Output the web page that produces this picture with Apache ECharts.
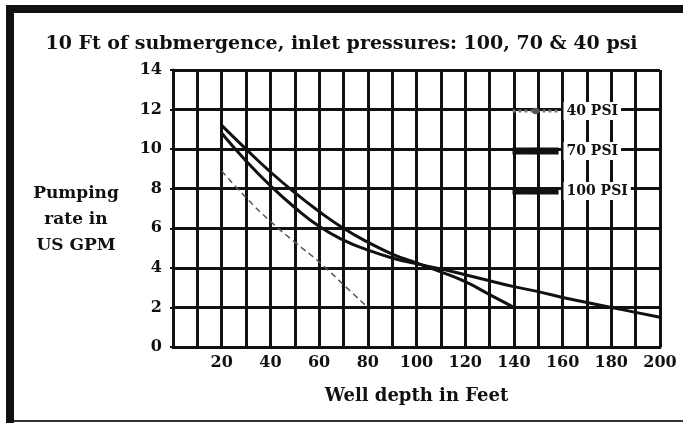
<!DOCTYPE html>
<html>
<head>
<meta charset="utf-8">
<script src="https://cdn.jsdelivr.net/npm/echarts@6/dist/echarts.min.js"></script>
<style>
  html, body { margin: 0; padding: 0; background: #fff; }
  #chart { width: 683px; height: 423px; }
</style>
</head>
<body>
<div id="chart"></div>
<script>
// well depth in feet (x) and pumping rate in US GPM (y)
const depth40 = [20, 30, 40, 50, 60, 70, 80];
const rate40 = [8.9, 7.55, 6.35, 5.3, 4.3, 3.15, 2.0];

const depth70 = [20, 30, 40, 50, 60, 70, 80, 90, 100, 110, 120, 130, 140];
const rate70 = [11.2, 10.0, 8.85, 7.8, 6.85, 6.0, 5.3, 4.7, 4.25, 3.8, 3.3, 2.65, 2.0];

const depth100 = [20, 30, 40, 50, 60, 70, 80, 90, 100, 110, 120, 130, 140, 150, 160, 170, 180, 190, 200];
const rate100 = [10.8, 9.4, 8.15, 7.05, 6.1, 5.4, 4.9, 4.5, 4.2, 3.95, 3.65, 3.35, 3.05, 2.8, 2.5, 2.25, 2.0, 1.75, 1.5];

const seriesNames = ['40 PSI', '70 PSI', '100 PSI'];

const font = '"DejaVu Serif", serif';
const pairs = (xs, ys) => xs.map((x, i) => [x, ys[i]]);

const myChart = echarts.init(document.getElementById('chart'));

myChart.setOption({
  backgroundColor: '#fff',
  animation: false,
  title: {
    text: '10 Ft of submergence, inlet pressures: 100, 70 & 40 psi',
    left: 'center',
    top: 30,
    textStyle: { fontFamily: font, fontWeight: 'bold', fontSize: 19, color: '#111' }
  },
  graphic: [
    { type: 'rect', shape: { x: 6, y: 5, width: 8, height: 418 }, style: { fill: '#111' } },
    { type: 'rect', shape: { x: 6, y: 5, width: 677, height: 8 }, style: { fill: '#111' } },
    { type: 'rect', shape: { x: 14, y: 420, width: 669, height: 2 }, style: { fill: '#333' } },
    {
      type: 'text',
      style: {
        x: 76, y: 181,
        text: 'Pumping\nrate in\nUS GPM', fontFamily: font, fontWeight: 'bold',
        fontSize: 17, lineHeight: 26, align: 'center', fill: '#111'
      }
    }
  ],
  legend: {
    orient: 'vertical',
    left: 504,
    top: 97,
    itemWidth: 46,
    itemHeight: 8,
    itemGap: 22,
    itemTextGap: 4,
    data: [
      { name: seriesNames[0], lineStyle: { width: 3, type: 'dotted', color: '#777' } },
      { name: seriesNames[1], lineStyle: { width: 7 } },
      { name: seriesNames[2], lineStyle: { width: 7 } }
    ],
    textStyle: {
      fontFamily: font, fontWeight: 'bold', fontSize: 14, color: '#111',
      backgroundColor: '#fff', padding: [2, 3], lineHeight: 14
    }
  },
  grid: { left: 173, right: 23, top: 70, bottom: 76 },
  xAxis: {
    type: 'value',
    min: 0,
    max: 200,
    interval: 10,
    name: 'Well depth in Feet',
    nameLocation: 'middle',
    nameGap: 40,
    nameTextStyle: { fontFamily: font, fontWeight: 'bold', fontSize: 18, color: '#111' },
    axisLine: { lineStyle: { color: '#111', width: 3 } },
    axisTick: { show: false },
    axisLabel: {
      fontFamily: font, fontWeight: 'bold', fontSize: 16, color: '#111', margin: 8,
      formatter: v => (v > 0 && v % 20 === 0) ? String(v) : ''
    },
    splitLine: { show: true, lineStyle: { color: '#111', width: 3 } }
  },
  yAxis: {
    type: 'value',
    min: 0,
    max: 14,
    interval: 2,
    axisLine: { show: true, lineStyle: { color: '#111', width: 3 } },
    axisTick: { show: true, length: 3, lineStyle: { color: '#111', width: 2 } },
    axisLabel: { fontFamily: font, fontWeight: 'bold', fontSize: 16, color: '#111', margin: 11 },
    splitLine: { show: true, lineStyle: { color: '#111', width: 3 } }
  },
  series: [
    {
      name: seriesNames[0], type: 'line', data: pairs(depth40, rate40), smooth: true,
      symbol: 'none', lineStyle: { color: '#555', width: 1.5, type: [6, 4] }, itemStyle: { color: '#555' }, z: 3
    },
    {
      name: seriesNames[1], type: 'line', data: pairs(depth70, rate70), smooth: true,
      symbol: 'none', lineStyle: { color: '#111', width: 3 }, itemStyle: { color: '#111' }, z: 3
    },
    {
      name: seriesNames[2], type: 'line', data: pairs(depth100, rate100), smooth: true,
      symbol: 'none', lineStyle: { color: '#111', width: 3 }, itemStyle: { color: '#111' }, z: 3
    }
  ]
});
</script>
</body>
</html>
